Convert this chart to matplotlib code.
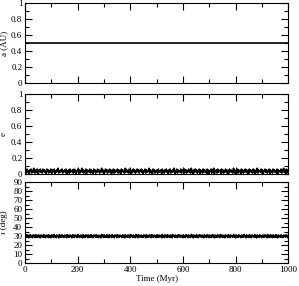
import numpy as np
import matplotlib.pyplot as plt
from matplotlib.ticker import MultipleLocator

plt.rcParams['font.family'] = ['Liberation Serif', 'DejaVu Serif']
plt.rcParams['font.size'] = 6.5

# eccentricity samples (noisy band 0 - 0.07)
ecc = [0.03,0.05,0.01,0.06,0.02,0.04,0.00,0.05,0.03,0.06,0.01,0.04,0.02,0.07,0.03,0.01,0.05,0.02,0.06,0.04,
       0.00,0.05,0.03,0.06,0.02,0.04,0.01,0.06,0.03,0.05,0.02,0.04,0.00,0.06,0.03,0.05,0.01,0.04,0.02,0.06,
       0.04,0.01,0.05,0.03,0.06,0.00,0.04,0.02,0.05,0.03,0.07,0.01,0.04,0.02,0.05,0.03,0.06,0.01,0.04,0.03,
       0.05,0.02,0.06,0.00,0.04,0.03,0.05,0.01,0.06,0.02,0.04,0.03,0.05,0.01,0.06,0.02,0.05,0.00,0.04,0.03,
       0.06,0.02,0.05,0.01,0.04,0.03,0.07,0.02,0.05,0.01,0.04,0.03,0.06,0.00,0.05,0.02,0.04,0.03,0.06,0.01,
       0.05,0.02,0.04,0.00,0.06,0.03,0.05,0.01,0.04,0.02,0.06,0.03,0.05,0.01,0.04,0.02,0.07,0.03,0.05,0.00,
       0.04,0.02,0.06,0.03,0.05,0.01,0.04,0.03,0.06,0.02,0.05,0.00,0.04,0.03,0.06,0.01,0.05,0.02,0.04,0.03,
       0.06,0.01,0.05,0.02,0.04,0.00,0.06,0.03,0.05,0.02,0.04,0.01,0.07,0.03,0.05,0.02,0.04,0.01,0.06,0.03,
       0.05,0.00,0.04,0.02,0.06,0.03,0.05,0.01,0.04,0.02,0.06,0.03,0.05,0.01,0.04,0.03,0.06,0.02,0.05,0.00,
       0.04,0.03,0.06,0.01,0.05,0.02,0.04,0.03,0.07,0.01,0.05,0.02,0.04,0.00,0.06,0.03,0.05,0.01,0.04,0.02,
       0.05,0.01,0.06,0.02,0.04,0.03,0.05,0.00,0.06,0.02,0.04,0.01,0.05,0.03,0.06,0.02,0.04,0.00,0.05,0.03,
       0.06,0.01,0.04,0.02,0.05,0.03,0.07,0.00,0.04,0.02,0.06,0.01,0.05,0.03,0.04,0.02,0.06,0.01,0.05,0.03,
       0.04,0.00,0.06,0.02,0.05,0.01,0.04,0.03,0.06,0.02,0.05,0.01,0.07,0.03,0.04,0.00,0.05,0.02,0.06,0.03,
       0.05,0.01,0.04,0.02,0.06,0.00,0.05,0.03,0.04,0.01,0.06,0.02,0.05,0.03,0.04,0.01,0.06,0.00,0.05,0.02,
       0.04,0.03,0.06,0.01,0.05,0.02,0.07,0.00,0.04,0.03,0.05,0.01,0.06,0.02,0.04,0.03,0.05,0.00,0.06,0.02,
       0.05,0.01,0.04,0.03,0.06,0.02,0.05,0.00,0.04,0.01,0.06,0.03,0.05,0.02,0.04,0.01,0.07,0.03,0.05,0.00,
       0.04,0.02,0.06,0.01,0.05,0.03,0.04,0.00,0.06,0.02,0.05,0.01,0.04,0.03,0.06,0.02,0.05,0.01,0.04,0.00,
       0.06,0.03,0.05,0.02,0.04,0.01,0.06,0.03,0.05,0.00,0.04,0.02,0.07,0.01,0.05,0.03,0.04,0.02,0.06,0.01,
       0.05,0.00,0.04,0.03,0.06,0.02,0.05,0.01,0.04,0.03,0.06,0.00,0.05,0.02,0.04,0.01,0.06,0.03,0.05,0.02,
       0.04,0.01,0.06,0.00,0.05,0.03,0.04,0.02,0.06,0.01,0.05,0.03,0.07,0.02,0.04,0.00,0.06,0.01,0.05,0.03]

# inclination samples (band around 30 deg)
inc = [30.2,28.6,31.4,29.1,31.0,28.4,30.8,29.3,31.6,28.9,30.5,28.3,31.2,29.7,30.9,28.5,31.5,29.0,30.6,28.7,
       31.3,29.4,30.7,28.2,31.1,29.6,30.4,28.8,31.7,29.2,30.3,28.4,31.0,29.8,30.8,28.6,31.4,29.1,30.5,28.3,
       31.2,29.5,30.9,28.7,31.6,29.3,30.2,28.5,31.1,29.9,30.6,28.2,31.5,29.0,30.7,28.8,31.3,29.4,30.4,28.6,
       31.0,29.7,30.8,28.3,31.6,29.2,30.5,28.9,31.2,29.5,30.3,28.4,31.4,29.1,30.9,28.7,31.1,29.8,30.6,28.5,
       31.7,29.3,30.2,28.8,31.0,29.6,30.7,28.2,31.5,29.0,30.4,28.6,31.3,29.9,30.8,28.4,31.2,29.4,30.5,28.7,
       31.6,29.2,30.3,28.3,31.1,29.7,30.9,28.9,31.4,29.1,30.6,28.5,31.0,29.5,30.2,28.2,31.7,29.8,30.7,28.6,
       31.3,29.3,30.4,28.8,31.5,29.0,30.8,28.4,31.2,29.6,30.5,28.7,31.6,29.4,30.3,28.3,31.1,29.9,30.9,28.5,
       31.4,29.2,30.6,28.9,31.0,29.7,30.2,28.6,31.3,29.1,30.7,28.2,31.5,29.5,30.4,28.8,31.2,29.3,30.8,28.4,
       31.7,29.8,30.5,28.7,31.1,29.0,30.3,28.5,31.6,29.6,30.9,28.3,31.4,29.4,30.6,28.9,31.0,29.2,30.2,28.6,
       31.3,29.9,30.7,28.2,31.5,29.1,30.4,28.8,31.2,29.7,30.8,28.4,31.6,29.3,30.5,28.7,31.1,29.5,30.3,28.5,
       31.4,29.0,30.9,28.9,31.0,29.8,30.6,28.3,31.7,29.2,30.2,28.6,31.3,29.6,30.7,28.4,31.5,29.4,30.4,28.8,
       31.2,29.1,30.8,28.2,31.6,29.9,30.5,28.7,31.1,29.3,30.3,28.5,31.4,29.7,30.9,28.9,31.0,29.5,30.6,28.3,
       31.3,29.0,30.2,28.6,31.5,29.8,30.7,28.4,31.2,29.2,30.4,28.8,31.7,29.6,30.8,28.2,31.1,29.4,30.5,28.7,
       31.6,29.1,30.3,28.5,31.4,29.9,30.9,28.9,31.0,29.3,30.6,28.3,31.3,29.7,30.2,28.6,31.5,29.5,30.7,28.4,
       31.2,29.0,30.4,28.8,31.6,29.8,30.8,28.2,31.1,29.2,30.5,28.7,31.4,29.6,30.3,28.5,31.7,29.4,30.9,28.9,
       31.0,29.1,30.6,28.3,31.3,29.9,30.2,28.6,31.5,29.3,30.7,28.4,31.2,29.7,30.4,28.8,31.6,29.5,30.8,28.2,
       31.1,29.0,30.5,28.7,31.4,29.8,30.3,28.5,31.0,29.2,30.9,28.9,31.7,29.6,30.6,28.3,31.3,29.4,30.2,28.6,
       31.5,29.1,30.7,28.4,31.2,29.9,30.4,28.8,31.6,29.3,30.8,28.2,31.1,29.7,30.5,28.7,31.4,29.5,30.3,28.5,
       31.0,29.0,30.9,28.9,31.3,29.8,30.6,28.3,31.7,29.2,30.2,28.6,31.5,29.6,30.7,28.4,31.2,29.4,30.4,28.8,
       31.6,29.1,30.8,28.2,31.1,29.9,30.5,28.7,31.4,29.3,30.3,28.5,31.0,29.7,30.9,28.9,31.3,29.5,30.6,28.3]

semi = [0.5, 0.5]
semi_t = [0, 1000]

t_e = np.linspace(0, 1000, len(ecc))
t_i = np.linspace(0, 1000, len(inc))

fig = plt.figure(figsize=(2.99, 2.86), dpi=100)
ax1 = fig.add_axes([0.084, 0.710, 0.880, 0.280])
ax2 = fig.add_axes([0.084, 0.392, 0.880, 0.280])
ax3 = fig.add_axes([0.084, 0.080, 0.880, 0.283])

ax1.plot(semi_t, semi, color='black', lw=1.2)
ax2.plot(t_e, ecc, color='black', lw=1.2)
ax3.plot(t_i, inc, color='black', lw=1.3)

ax1.set_ylim(0, 1)
ax2.set_ylim(0, 1)
ax3.set_ylim(0, 90)
for ax in (ax1, ax2):
    ax.set_yticks([0, 0.2, 0.4, 0.6, 0.8, 1])
    ax.set_yticklabels(['0', '0.2', '0.4', '0.6', '0.8', '1'])
    ax.yaxis.set_minor_locator(MultipleLocator(0.1))
ax3.yaxis.set_major_locator(MultipleLocator(10))
ax3.yaxis.set_minor_locator(MultipleLocator(5))

for ax in (ax1, ax2, ax3):
    ax.set_xlim(0, 1000)
    ax.xaxis.set_major_locator(MultipleLocator(200))
    ax.xaxis.set_minor_locator(MultipleLocator(100))
    ax.tick_params(which='both', direction='in', top=True, right=True, pad=2)
    ax.tick_params(which='major', length=5, width=0.8)
    ax.tick_params(which='minor', length=3, width=0.8)
    for s in ax.spines.values():
        s.set_linewidth(0.8)
ax1.tick_params(labelbottom=False)
ax2.tick_params(labelbottom=False)

ax1.set_ylabel('a (AU)')
ax2.set_ylabel('e')
ax3.set_ylabel('i (deg)')
for ax in (ax1, ax2, ax3):
    ax.yaxis.set_label_coords(-0.066, 0.5)
ax3.set_xlabel('Time (Myr)', labelpad=1)

fig.savefig('out.png', dpi=100)
